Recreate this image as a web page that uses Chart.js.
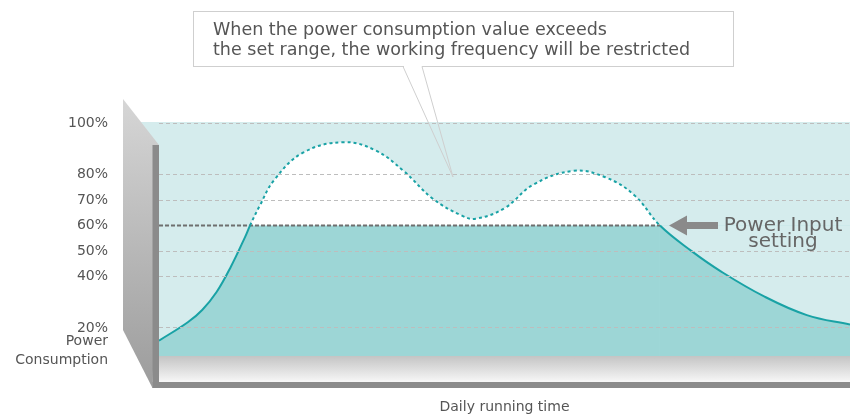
<!DOCTYPE html>
<html>
<head>
<meta charset="utf-8">
<title>Power input setting</title>
<script src="https://cdn.jsdelivr.net/npm/chart.js@4/dist/chart.umd.min.js"></script>
<style>
  html, body { margin: 0; padding: 0; background: #ffffff; }
  #wrap { width: 850px; height: 416px; }
</style>
</head>
<body>
<div id="wrap"><canvas id="chart" width="850" height="416"></canvas></div>
<script>
// Hours of the day at which the consumption curve is sampled
const hours = [0, 1, 1.5, 2, 2.5, 3, 3.16, 3.5, 4, 5, 6.4, 7.5, 8.5, 9.5, 10.5, 11, 12, 13, 14.4, 15.5, 16.5, 17.4, 18.5, 19.5, 21, 22.5, 24];
// Power consumption (% of rated power) at those hours
const consumption = [15, 22.2, 27, 34, 44, 55.8, 60, 67.8, 77.8, 88.5, 92.6, 89.5, 81.3, 70.6, 64, 62.7, 66.8, 76, 81.4, 78.9, 72, 60, 50, 42.2, 32.4, 25, 21.3];
// Power input setting (%) and the hours spanned by the setting line
const powerSetting = 60;
const settingHours = [0, 17.4, 24];
// Value-axis tick marks (%)
const yTicks = [20, 40, 50, 60, 70, 80, 100];

const calloutLines = ['When the power consumption value exceeds', 'the set range, the working frequency will be restricted'];
const settingLabel = ['Power Input', 'setting'];
const yCaption = ['Power', 'Consumption'];

const TEAL = '#19a2a5';
const TEAL_FILL = '#9dd6d6';
const PALE_TEAL = '#d5eced';
const FONT = 'DejaVu Sans';

// pale backdrop behind the plot
const backdrop = {
  id: 'backdrop',
  beforeDraw(chart) {
    const { ctx, chartArea: a } = chart;
    ctx.save();
    ctx.fillStyle = PALE_TEAL;
    ctx.fillRect(a.left - 18, a.top, a.right - a.left + 18, a.bottom - a.top);
    ctx.restore();
  }
};

// 3D wall and floor, callout, setting arrow and captions
const frame = {
  id: 'frame',
  afterDraw(chart) {
    const { ctx, chartArea: a } = chart;
    const L = a.left, T = a.top, B = a.bottom, R = a.right;
    ctx.save();

    // slanted left wall
    const wg = ctx.createLinearGradient(0, T - 23, 0, B + 32);
    wg.addColorStop(0, '#d6d6d6');
    wg.addColorStop(1, '#9c9c9c');
    ctx.fillStyle = wg;
    ctx.beginPath();
    ctx.moveTo(L - 36, T - 23);
    ctx.lineTo(L, T + 23);
    ctx.lineTo(L - 6.5, B + 32);
    ctx.lineTo(L - 36, B - 26);
    ctx.closePath();
    ctx.fill();

    // floor
    const fg = ctx.createLinearGradient(0, B, 0, B + 26);
    fg.addColorStop(0, '#c4c4c4');
    fg.addColorStop(1, '#f7f7f7');
    ctx.fillStyle = fg;
    ctx.fillRect(L, B, R - L, 26);

    // dark edges
    ctx.fillStyle = '#8b8b8b';
    ctx.fillRect(L - 6.5, T + 23, 6.5, B + 32 - (T + 23));
    ctx.fillRect(L - 6.5, B + 26, R - L + 6.5, 6);

    // value-axis caption
    ctx.fillStyle = '#555555';
    ctx.font = '14px "' + FONT + '"';
    ctx.textAlign = 'right';
    ctx.textBaseline = 'alphabetic';
    ctx.fillText(yCaption[0], L - 51, 345);
    ctx.fillText(yCaption[1], L - 51, 364);

    // callout box
    ctx.fillStyle = '#ffffff';
    ctx.fillRect(193, 11, 540, 55);
    ctx.strokeStyle = '#cfcfcf';
    ctx.lineWidth = 1;
    ctx.strokeRect(193.5, 11.5, 540, 55);
    ctx.fillStyle = '#ffffff';
    ctx.fillRect(404, 64, 18, 4);
    ctx.beginPath();
    ctx.moveTo(403, 66.5);
    ctx.lineTo(453, 177);
    ctx.lineTo(422, 66.5);
    ctx.stroke();
    ctx.fillStyle = '#555555';
    ctx.font = '17.5px "' + FONT + '"';
    ctx.textAlign = 'left';
    ctx.fillText(calloutLines[0], 213, 35);
    ctx.fillText(calloutLines[1], 213, 55);

    // setting arrow and label
    const y0 = chart.scales.y.getPixelForValue(powerSetting);
    ctx.fillStyle = '#8a8a8a';
    ctx.beginPath();
    ctx.moveTo(669, y0);
    ctx.lineTo(687, y0 - 10);
    ctx.lineTo(687, y0 - 3.5);
    ctx.lineTo(718, y0 - 3.5);
    ctx.lineTo(718, y0 + 3.5);
    ctx.lineTo(687, y0 + 3.5);
    ctx.lineTo(687, y0 + 10);
    ctx.closePath();
    ctx.fill();
    ctx.fillStyle = '#666666';
    ctx.font = '20px "' + FONT + '"';
    ctx.textAlign = 'center';
    ctx.fillText(settingLabel[0], 783, y0 + 5);
    ctx.fillText(settingLabel[1], 783, y0 + 21.5);

    ctx.restore();
  }
};

new Chart(document.getElementById('chart'), {
  type: 'line',
  data: {
    datasets: [
      {
        label: 'Power consumption',
        data: hours.map((h, i) => ({ x: h, y: consumption[i] })),
        borderColor: TEAL,
        borderWidth: 2,
        pointRadius: 0,
        tension: 0.4,
        fill: { target: { value: powerSetting }, above: '#ffffff', below: PALE_TEAL },
        segment: {
          borderDash: c => (c.p0.parsed.y >= powerSetting && c.p1.parsed.y >= powerSetting) ? [3, 3] : undefined
        }
      },
      {
        label: 'Power input setting',
        data: settingHours.map(h => ({ x: h, y: powerSetting })),
        borderColor: '#6f6f6f',
        borderWidth: 2,
        borderDash: [4, 2],
        pointRadius: 0,
        fill: 'start',
        backgroundColor: TEAL_FILL,
        segment: {
          borderColor: c => c.p0.parsed.x >= settingHours[1] ? 'rgba(0,0,0,0)' : undefined
        }
      }
    ]
  },
  options: {
    responsive: false,
    animation: false,
    events: [],
    layout: { padding: { top: 122, left: 0, right: 0, bottom: 0 } },
    plugins: {
      legend: { display: false },
      tooltip: { enabled: false },
      filler: { drawTime: 'beforeDatasetsDraw' }
    },
    scales: {
      x: {
        type: 'linear',
        min: 0,
        max: 24,
        ticks: { display: false },
        grid: { display: false, drawTicks: false },
        border: { display: false },
        title: {
          display: true,
          text: 'Daily running time',
          color: '#555555',
          font: { family: FONT, size: 14 },
          padding: { top: 0, bottom: 0 }
        },
        afterFit: s => { s.height = 60; }
      },
      y: {
        type: 'linear',
        min: 9,
        max: 100.5,
        afterBuildTicks: s => { s.ticks = yTicks.map(v => ({ value: v })); },
        afterFit: s => { s.width = 159; },
        ticks: {
          padding: 51,
          color: '#555555',
          font: { family: FONT, size: 14 },
          callback: v => v + '%'
        },
        grid: {
          z: 1,
          drawTicks: false,
          lineWidth: 1,
          color: c => (c.tick && c.tick.value === powerSetting) ? 'rgba(0,0,0,0)' : '#bdbdbd'
        },
        border: { display: false, dash: [4, 3] }
      }
    }
  },
  plugins: [backdrop, frame]
});
</script>
</body>
</html>
